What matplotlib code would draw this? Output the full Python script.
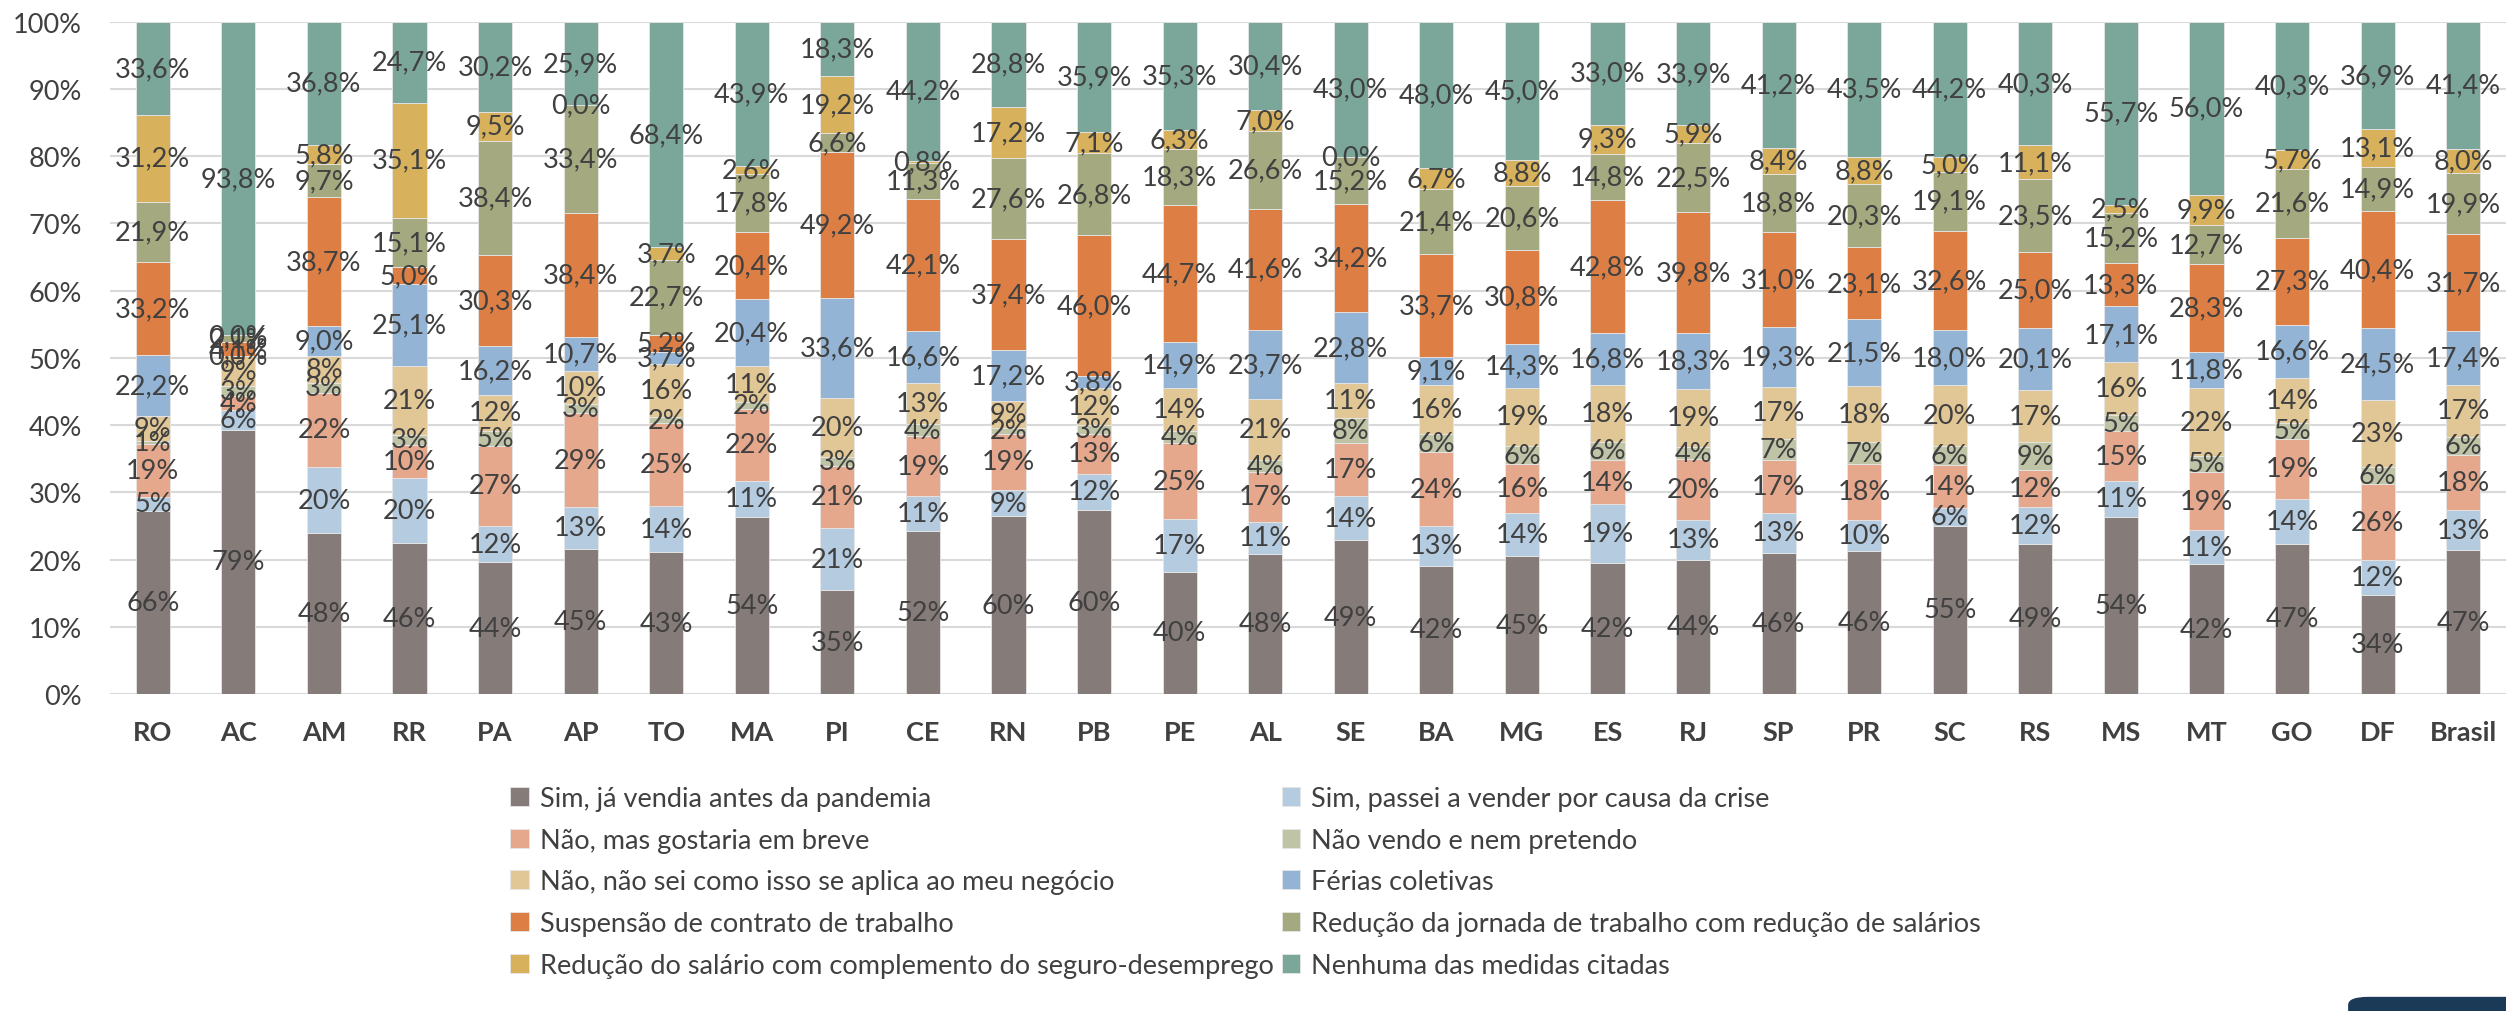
import numpy as np
import matplotlib.pyplot as plt
from matplotlib.patches import FancyBboxPatch

plt.rcParams['font.family'] = ['Lato', 'DejaVu Sans']

estados = ['RO', 'AC', 'AM', 'RR', 'PA', 'AP', 'TO', 'MA', 'PI', 'CE', 'RN', 'PB', 'PE', 'AL',
           'SE', 'BA', 'MG', 'ES', 'RJ', 'SP', 'PR', 'SC', 'RS', 'MS', 'MT', 'GO', 'DF', 'Brasil']

# vendas online (%)
ja_vendia   = [66, 79, 48, 46, 44, 45, 43, 54, 35, 52, 60, 60, 40, 48, 49, 42, 45, 42, 44, 46, 46, 55, 49, 54, 42, 47, 34, 47]
passei      = [5, 6, 20, 20, 12, 13, 14, 11, 21, 11, 9, 12, 17, 11, 14, 13, 14, 19, 13, 13, 10, 6, 12, 11, 11, 14, 12, 13]
gostaria    = [19, 4, 22, 10, 27, 29, 25, 22, 21, 19, 19, 13, 25, 17, 17, 24, 16, 14, 20, 17, 18, 14, 12, 15, 19, 19, 26, 18]
nem_pretendo = [1, 3, 3, 3, 5, 3, 2, 2, 3, 4, 2, 3, 4, 4, 8, 6, 6, 6, 4, 7, 7, 6, 9, 5, 5, 5, 6, 6]
nao_sei     = [9, 9, 8, 21, 12, 10, 16, 11, 20, 13, 9, 12, 14, 21, 11, 16, 19, 18, 19, 17, 18, 20, 17, 16, 22, 14, 23, 17]

# medidas trabalhistas (%)
ferias      = [22.2, 0.0, 9.0, 25.1, 16.2, 10.7, 3.7, 20.4, 33.6, 16.6, 17.2, 3.8, 14.9, 23.7,
               22.8, 9.1, 14.3, 16.8, 18.3, 19.3, 21.5, 18.0, 20.1, 17.1, 11.8, 16.6, 24.5, 17.4]
suspensao   = [33.2, 4.1, 38.7, 5.0, 30.3, 38.4, 5.2, 20.4, 49.2, 42.1, 37.4, 46.0, 44.7, 41.6,
               34.2, 33.7, 30.8, 42.8, 39.8, 31.0, 23.1, 32.6, 25.0, 13.3, 28.3, 27.3, 40.4, 31.7]
jornada     = [21.9, 2.1, 9.7, 15.1, 38.4, 33.4, 22.7, 17.8, 6.6, 11.3, 27.6, 26.8, 18.3, 26.6,
               15.2, 21.4, 20.6, 14.8, 22.5, 18.8, 20.3, 19.1, 23.5, 15.2, 12.7, 21.6, 14.9, 19.9]
salario     = [31.2, 0.0, 5.8, 35.1, 9.5, 0.0, 3.7, 2.6, 19.2, 0.8, 17.2, 7.1, 6.3, 7.0,
               0.0, 6.7, 8.8, 9.3, 5.9, 8.4, 8.8, 5.0, 11.1, 2.5, 9.9, 5.7, 13.1, 8.0]
nenhuma     = [33.6, 93.8, 36.8, 24.7, 30.2, 25.9, 68.4, 43.9, 18.3, 44.2, 28.8, 35.9, 35.3, 30.4,
               43.0, 48.0, 45.0, 33.0, 33.9, 41.2, 43.5, 44.2, 40.3, 55.7, 56.0, 40.3, 36.9, 41.4]

series = [ja_vendia, passei, gostaria, nem_pretendo, nao_sei, ferias, suspensao, jornada, salario, nenhuma]
nomes = ['Sim, já vendia antes da pandemia',
         'Sim, passei a vender por causa da crise',
         'Não, mas gostaria em breve',
         'Não vendo e nem pretendo',
         'Não, não sei como isso se aplica ao meu negócio',
         'Férias coletivas',
         'Suspensão de contrato de trabalho',
         'Redução da jornada de trabalho com redução de salários',
         'Redução do salário com complemento do seguro-desemprego',
         'Nenhuma das medidas citadas']
cores = ['#857b79', '#b4cbe0', '#e5a88c', '#bfc4a6', '#e2c796',
         '#93b4d4', '#dd7f45', '#a4a97f', '#d8b15c', '#7ba69a']

txt = '#404040'
fs = 19.5
dados = np.array(series, dtype=float)
total = dados.sum(axis=0)
pct = dados / total * 100

fig = plt.figure(figsize=(25.06, 10.12), dpi=100)
ax = fig.add_axes([0.0439, 0.3132, 0.9561, 0.6644])

x = np.arange(len(estados))
base = np.zeros(len(estados))
handles = []
for i, (vals, nome, cor) in enumerate(zip(series, nomes, cores)):
    bars = ax.bar(x, pct[i], 0.4, bottom=base, color=cor, label=nome,
                  edgecolor='#e6e6e6', linewidth=0.6, zorder=2)
    if i < 5:
        labs = [f'{v:.0f}%' for v in vals]
    else:
        labs = [f'{v:.1f}%'.replace('.', ',') for v in vals]
    ax.bar_label(bars, labels=labs, label_type='center', fontsize=fs, color=txt, zorder=3)
    base += pct[i]
    handles.append(bars)

ax.set_xlim(-0.5, len(estados) - 0.5)
ax.set_ylim(0, 100)
ax.set_yticks(np.arange(0, 101, 10))
ax.set_yticklabels([f'{v}%' for v in range(0, 101, 10)])
ax.set_xticks(x)
ax.set_xticklabels(estados, fontweight='bold')
ax.tick_params(axis='y', length=0, pad=20, labelsize=fs, labelcolor=txt)
ax.tick_params(axis='x', length=0, pad=19, labelsize=fs, labelcolor=txt)
ax.grid(axis='y', color='#d9d9d9', linewidth=1.5, zorder=0)
ax.set_axisbelow(True)
for s in ax.spines.values():
    s.set_visible(False)

# legenda em 2 colunas, preenchida por linha
ordem = [0, 2, 4, 6, 8, 1, 3, 5, 7, 9]
fig.legend([handles[k] for k in ordem], [nomes[k] for k in ordem], ncol=2,
           loc='upper left', bbox_to_anchor=(0.198, 0.236), frameon=False,
           fontsize=fs, labelcolor=txt, handlelength=0.7, handleheight=0.7,
           handletextpad=0.4, columnspacing=0.3, labelspacing=0.62, borderpad=0)

# faixa escura no canto inferior direito
fig.patches.append(FancyBboxPatch((0.937, -0.02), 0.08, 0.034, boxstyle='round,pad=0,rounding_size=0.008',
                                  transform=fig.transFigure, facecolor='#1b3a57', edgecolor='none'))

plt.savefig('out.png', dpi=100)
